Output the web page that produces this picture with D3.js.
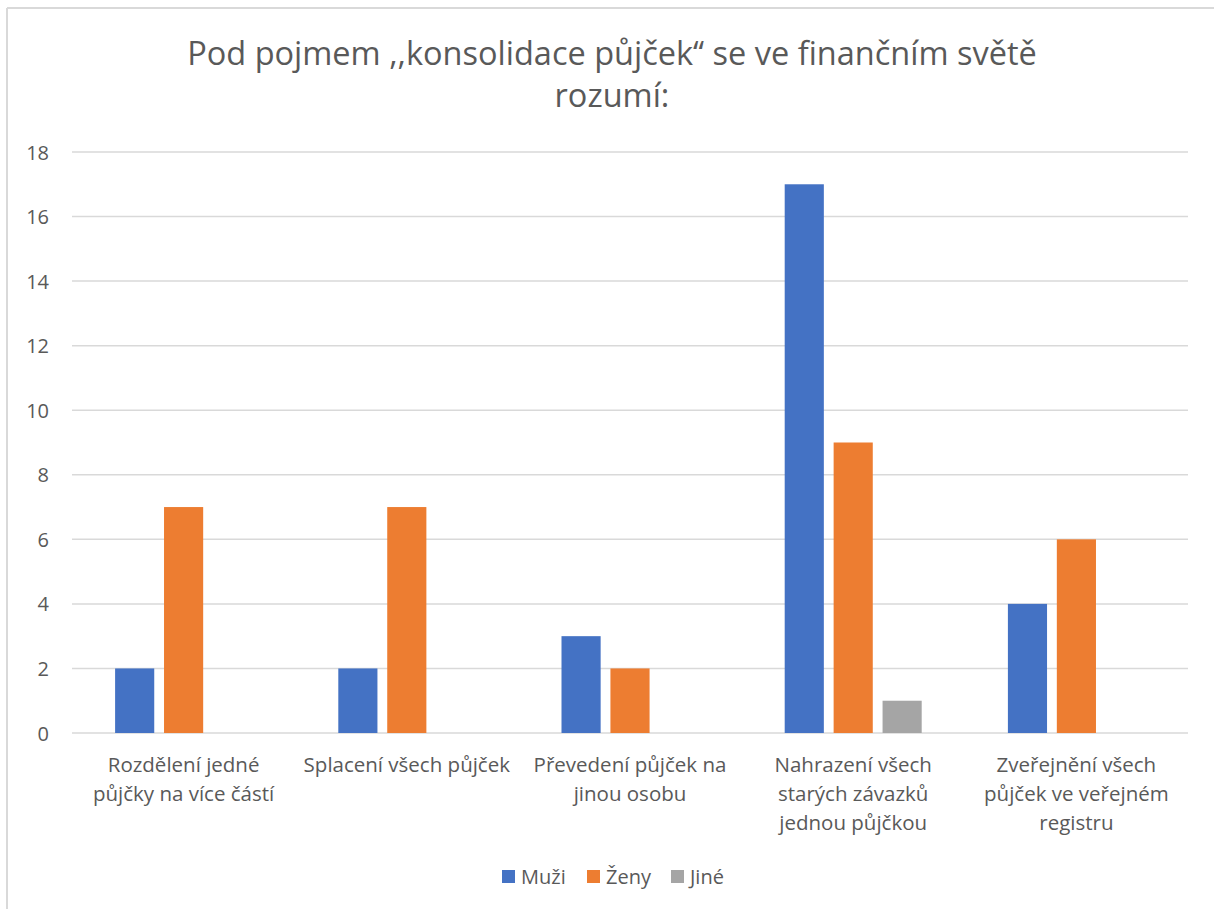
<!DOCTYPE html>
<html><head><meta charset="utf-8">
<script src="https://cdn.jsdelivr.net/npm/d3@7"></script>
<style>
html,body{margin:0;padding:0;background:#fff;}
svg{display:block;}
text{font-family:"Open Sans","Noto Sans",sans-serif;fill:#595959;}
</style></head>
<body>
<svg id="chart" width="1214" height="909"></svg>
<script>
const titleLines = ["Pod pojmem ,,konsolidace půjček‘‘ se ve finančním světě", "rozumí:"];
const categories = ["Rozdělení jedné půjčky na více částí", "Splacení všech půjček", "Převedení půjček na jinou osobu", "Nahrazení všech starých závazků jednou půjčkou", "Zveřejnění všech půjček ve veřejném registru"];
const categoryLines = [
  ["Rozdělení jedné", "půjčky na více částí"],
  ["Splacení všech půjček"],
  ["Převedení půjček na", "jinou osobu"],
  ["Nahrazení všech", "starých závazků", "jednou půjčkou"],
  ["Zveřejnění všech", "půjček ve veřejném", "registru"]
];
const seriesNames = ["Muži", "Ženy", "Jiné"];
const muzi = [2, 2, 3, 17, 4];
const zeny = [7, 7, 2, 9, 6];
const jine = [0, 0, 0, 1, 0];
const yTicks = [0, 2, 4, 6, 8, 10, 12, 14, 16, 18];
const colors = ["#4472C4", "#ED7D31", "#A5A5A5"];

const seriesValues = [muzi, zeny, jine];
const svg = d3.select("#chart");

// outer frame (top and left edges visible)
svg.append("line").attr("x1", 7).attr("x2", 1214).attr("y1", 8).attr("y2", 8).attr("stroke", "#d9d9d9").attr("stroke-width", 2);
svg.append("line").attr("x1", 7).attr("x2", 7).attr("y1", 8).attr("y2", 909).attr("stroke", "#d9d9d9").attr("stroke-width", 2);

// title
svg.append("text").attr("x", 612).attr("text-anchor", "middle").style("font-size", "32.5px")
  .selectAll("tspan").data(titleLines).join("tspan")
  .attr("x", 612).attr("y", (d, i) => 65 + i * 42).text(d => d);

const pLeft = 72, pRight = 1188, pTop = 152, pBottom = 733;
const x0 = d3.scaleBand().domain(categories).range([pLeft, pRight]).padding(0);
const groupW = 137;
const x1 = d3.scaleBand().domain(seriesNames).range([0, groupW]).paddingInner(0.2).paddingOuter(0);
const y = d3.scaleLinear().domain([0, 18]).range([pBottom, pTop]);

// gridlines
svg.append("g").selectAll("line").data(yTicks).join("line")
  .attr("x1", pLeft).attr("x2", pRight)
  .attr("y1", d => y(d)).attr("y2", d => y(d))
  .attr("stroke", "#d9d9d9").attr("stroke-width", 1.5);

// y axis labels
const yAxis = d3.axisLeft(y).tickValues(yTicks).tickSize(0).tickPadding(0);
const yg = svg.append("g").attr("transform", `translate(49,0)`).call(yAxis);
yg.select(".domain").remove();
yg.selectAll("text").style("font-size", "20px").attr("fill", "#595959").attr("dy", "0.35em")
  .style("font-family", '"Open Sans","Noto Sans",sans-serif');

// bars
const rows = categories.map((c, i) => ({cat: c, vals: seriesNames.map((s, j) => ({s, j, v: seriesValues[j][i]}))}));
const off = (x0.bandwidth() - groupW) / 2;
svg.append("g").selectAll("g").data(rows).join("g")
  .attr("transform", d => `translate(${x0(d.cat) + off},0)`)
  .selectAll("rect").data(d => d.vals.filter(v => v.v > 0)).join("rect")
  .attr("x", d => x1(d.s)).attr("width", x1.bandwidth())
  .attr("y", d => y(d.v)).attr("height", d => y(0) - y(d.v))
  .attr("fill", d => colors[d.j]);

// category labels
const xg = svg.append("g");
categories.forEach((c, i) => {
  const t = xg.append("text").attr("text-anchor", "middle").style("font-size", "20.5px");
  t.selectAll("tspan").data(categoryLines[i]).join("tspan")
    .attr("x", x0(c) + x0.bandwidth() / 2)
    .attr("y", (d, k) => 772 + k * 29).text(d => d);
});

// legend
const legendX = [502, 587, 671];
const lg = svg.append("g");
seriesNames.forEach((s, j) => {
  lg.append("rect").attr("x", legendX[j]).attr("y", 870).attr("width", 13).attr("height", 13).attr("fill", colors[j]);
  lg.append("text").attr("x", legendX[j] + 19).attr("y", 884).style("font-size", "20px").text(s);
});
</script>
</body></html>
